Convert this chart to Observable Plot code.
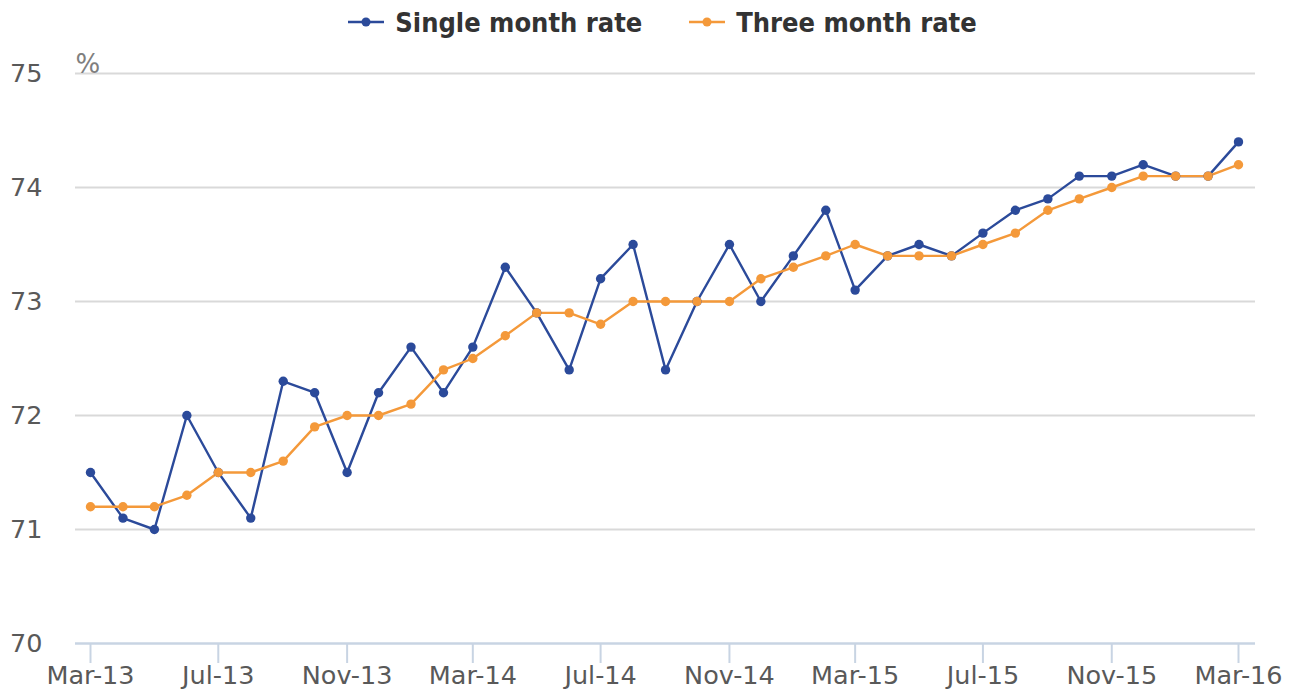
<!DOCTYPE html>
<html>
<head>
<meta charset="utf-8">
<script src="https://cdn.jsdelivr.net/npm/d3@7"></script>
<script src="https://cdn.jsdelivr.net/npm/@observablehq/plot@0.6"></script>
<style>
  html, body { margin: 0; padding: 0; background: #fff; }
  body { width: 1295px; height: 689px; overflow: hidden; font-family: "DejaVu Sans", sans-serif; }
  #legend { height: 44px; display: flex; justify-content: center; align-items: center; padding-left: 30px; box-sizing: border-box; }
  .item { display: flex; align-items: center; font-family: "DejaVu Sans Condensed", "DejaVu Sans", sans-serif; font-stretch: condensed; font-weight: bold; font-size: 27px; color: #333; line-height: 1; }
  .item svg { margin-right: 11px; }
  .item + .item { margin-left: 47px; }
</style>
</head>
<body>
<div id="legend"></div>
<div id="chart"></div>
<script>
const months = ["Mar-13","Apr-13","May-13","Jun-13","Jul-13","Aug-13","Sep-13","Oct-13","Nov-13","Dec-13",
  "Jan-14","Feb-14","Mar-14","Apr-14","May-14","Jun-14","Jul-14","Aug-14","Sep-14","Oct-14","Nov-14","Dec-14",
  "Jan-15","Feb-15","Mar-15","Apr-15","May-15","Jun-15","Jul-15","Aug-15","Sep-15","Oct-15","Nov-15","Dec-15",
  "Jan-16","Feb-16","Mar-16"];
const singleMonth = [71.5,71.1,71.0,72.0,71.5,71.1,72.3,72.2,71.5,72.2,
  72.6,72.2,72.6,73.3,72.9,72.4,73.2,73.5,72.4,73.0,73.5,73.0,
  73.4,73.8,73.1,73.4,73.5,73.4,73.6,73.8,73.9,74.1,74.1,74.2,
  74.1,74.1,74.4];
const threeMonth = [71.2,71.2,71.2,71.3,71.5,71.5,71.6,71.9,72.0,72.0,
  72.1,72.4,72.5,72.7,72.9,72.9,72.8,73.0,73.0,73.0,73.0,73.2,
  73.3,73.4,73.5,73.4,73.4,73.4,73.5,73.6,73.8,73.9,74.0,74.1,
  74.1,74.1,74.2];
const seriesNames = ["Single month rate", "Three month rate"];
const seriesColors = ["#2b4a9a", "#f4993a"];
const yTicks = [70, 71, 72, 73, 74, 75];

const parse = d3.utcParse("%b-%y");
const dates = months.map(parse);
const data = [];
months.forEach((m, i) => {
  data.push({date: dates[i], value: singleMonth[i], series: seriesNames[0]});
  data.push({date: dates[i], value: threeMonth[i], series: seriesNames[1]});
});
const xTicks = dates.filter((d, i) => i % 4 === 0);

// legend
const legend = document.getElementById("legend");
seriesNames.forEach((name, i) => {
  const el = document.createElement("div");
  el.className = "item";
  el.innerHTML = `<svg width="36" height="12"><line x1="0" x2="36" y1="6" y2="6" stroke="${seriesColors[i]}" stroke-width="2.5"/><circle cx="18" cy="6" r="4.5" fill="${seriesColors[i]}"/></svg><span>${name}</span>`;
  legend.appendChild(el);
});

const chart = Plot.plot({
  width: 1295,
  height: 645,
  marginLeft: 75,
  marginRight: 40,
  marginTop: 29,
  marginBottom: 46,
  style: { fontFamily: "DejaVu Sans, sans-serif", background: "#fff" },
  x: { type: "utc", domain: [dates[0], dates[dates.length - 1]], insetLeft: 15, insetRight: 17 },
  y: { domain: [70, 75] },
  color: { domain: seriesNames, range: seriesColors },
  marks: [
    Plot.ruleY(yTicks.filter(t => t > 70), { stroke: "#d9d9d9", strokeWidth: 2 }),
    Plot.ruleY([70], { stroke: "#c8d4e3", strokeWidth: 2.5 }),
    Plot.axisY({ ticks: yTicks, tickFormat: d3.format("d"), tickSize: 0, tickPadding: 33, fontSize: 25.5, fill: "#595959", label: null }),
    Plot.axisX({ ticks: xTicks, tickFormat: d3.utcFormat("%b-%y"), tickSize: 20, tickPadding: 2, stroke: "#c8d4e3", strokeWidth: 2, fontSize: 25.5, fill: "#595959", label: null }),
    Plot.text(["%"], { frameAnchor: "top-left", textAnchor: "start", lineAnchor: "bottom", dy: -1, fontSize: 26, fill: "#7f7f7f" }),
    Plot.line(data, { x: "date", y: "value", z: "series", stroke: "series", strokeWidth: 2.4 }),
    Plot.dot(data, { x: "date", y: "value", fill: "series", r: 4.7 })
  ]
});
document.getElementById("chart").appendChild(chart);
</script>
</body>
</html>
